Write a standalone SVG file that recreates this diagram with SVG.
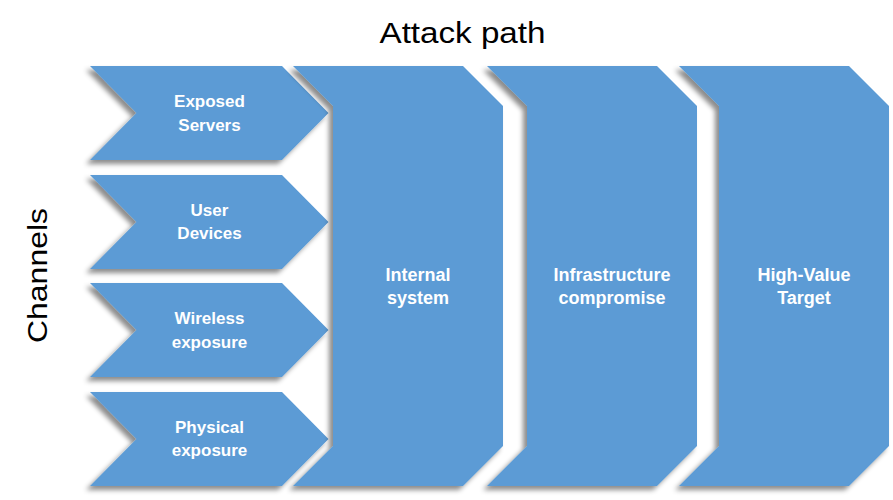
<svg xmlns="http://www.w3.org/2000/svg" width="893" height="500" viewBox="0 0 893 500">
<defs>
<filter id="sh" x="-10%" y="-10%" width="120%" height="120%">
<feDropShadow dx="-4" dy="4" stdDeviation="2.5" flood-color="#000" flood-opacity="0.45"/>
</filter>
<style>
.shape{fill:#5B9BD5;filter:url(#sh)}
.lbl{font-family:"Liberation Sans",Arial,sans-serif;font-weight:bold;fill:#fff;text-anchor:middle}
.s{font-size:17px}
.b{font-size:18px}
.title{font-family:"Liberation Sans",Arial,sans-serif;fill:#000;text-anchor:middle}
</style>
</defs>
<rect width="893" height="500" fill="#fff"/>
<text class="title" x="462.5" y="43" font-size="29" textLength="166" lengthAdjust="spacingAndGlyphs">Attack path</text>
<text class="title" transform="translate(47,275.5) rotate(-90)" x="0" y="0" font-size="28" textLength="135" lengthAdjust="spacingAndGlyphs">Channels</text>
<g id="connectors"></g>
<g id="exposed-servers">
<polygon class="shape" points="90,66 282,66 328.5,113 282,160 90,160 136.5,113"/>
<text class="lbl s" x="209.5" y="106.5">Exposed</text>
<text class="lbl s" x="209.5" y="130.5">Servers</text>
</g>
<g id="user-devices">
<polygon class="shape" points="90,175 282,175 328.5,222 282,269 90,269 136.5,222"/>
<text class="lbl s" x="209.5" y="215.5">User</text>
<text class="lbl s" x="209.5" y="239">Devices</text>
</g>
<g id="wireless-exposure">
<polygon class="shape" points="90,283 282,283 328.5,330 282,377 90,377 136.5,330"/>
<text class="lbl s" x="209.5" y="324">Wireless</text>
<text class="lbl s" x="209.5" y="347.5">exposure</text>
</g>
<g id="physical-exposure">
<polygon class="shape" points="90,392 282,392 328.5,439 282,486 90,486 136.5,439"/>
<text class="lbl s" x="209.5" y="432.5">Physical</text>
<text class="lbl s" x="209.5" y="456">exposure</text>
</g>
<g id="internal-system">
<polygon class="shape" points="293,66 463,66 503,106 503,446 463,486 293,486 333,446 333,106"/>
<text class="lbl b" x="418" y="280.5">Internal</text>
<text class="lbl b" x="418" y="303.5">system</text>
</g>
<g id="infrastructure-compromise">
<polygon class="shape" points="487,66 657,66 697,106 697,446 657,486 487,486 527,446 527,106"/>
<text class="lbl b" x="612" y="280.5">Infrastructure</text>
<text class="lbl b" x="612" y="303.5">compromise</text>
</g>
<g id="high-value-target">
<polygon class="shape" points="679,66 849,66 889,106 889,446 849,486 679,486 719,446 719,106"/>
<text class="lbl b" x="804" y="280.5">High-Value</text>
<text class="lbl b" x="804" y="303.5">Target</text>
</g>
</svg>
